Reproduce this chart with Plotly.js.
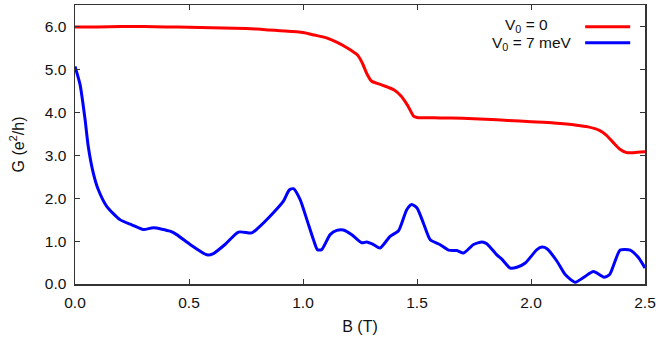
<!DOCTYPE html>
<html>
<head>
<meta charset="utf-8">
<script src="https://cdn.plot.ly/plotly-3.0.1.min.js"></script>
<style>html,body{margin:0;padding:0;background:#fff;}#plot{width:658px;height:342px;}</style>
</head>
<body>
<div id="plot"></div>
<script>
// V0 = 0 series
var redB = [0.0,0.1,0.2,0.3,0.4,0.5,0.6,0.7,0.8,0.85,0.9,1.0,1.05,1.1,1.15,1.2,1.24,1.26,1.28,1.30,1.35,1.40,1.43,1.46,1.485,1.5,1.6,1.7,1.8,1.9,2.0,2.1,2.2,2.25,2.3,2.33,2.36,2.39,2.42,2.45,2.5];
var redG = [5.99,5.99,6.0,6.0,5.99,5.98,5.97,5.96,5.94,5.92,5.90,5.86,5.80,5.74,5.63,5.48,5.33,5.15,4.90,4.73,4.63,4.52,4.38,4.15,3.91,3.88,3.87,3.86,3.84,3.81,3.78,3.75,3.70,3.66,3.58,3.47,3.30,3.14,3.06,3.06,3.08];
// V0 = 7 meV series
var blueB = [0.0,0.022,0.044,0.058,0.08,0.102,0.139,0.197,0.249,0.30,0.344,0.417,0.446,0.505,0.578,0.607,0.658,0.717,0.775,0.80,0.87,0.914,0.94,0.958,0.987,1.017,1.046,1.063,1.082,1.119,1.148,1.177,1.214,1.258,1.28,1.309,1.338,1.382,1.419,1.455,1.477,1.50,1.528,1.558,1.60,1.638,1.675,1.704,1.748,1.785,1.806,1.85,1.872,1.909,1.938,1.975,2.026,2.048,2.07,2.114,2.15,2.194,2.23,2.274,2.32,2.345,2.391,2.435,2.472,2.5];
var blueG = [5.07,4.65,3.84,3.21,2.59,2.20,1.81,1.50,1.38,1.27,1.31,1.23,1.15,0.92,0.68,0.71,0.92,1.21,1.19,1.29,1.66,1.93,2.19,2.22,1.97,1.50,1.03,0.80,0.80,1.15,1.25,1.26,1.15,0.96,0.98,0.92,0.84,1.11,1.24,1.73,1.85,1.77,1.42,1.03,0.92,0.79,0.78,0.72,0.92,0.98,0.94,0.68,0.58,0.37,0.39,0.49,0.80,0.86,0.82,0.53,0.22,0.04,0.15,0.29,0.16,0.22,0.79,0.79,0.61,0.37];
var seriesNames = ["V<sub>0</sub> = 0", "V<sub>0</sub> = 7 meV"];
var xTicks = [0, 0.5, 1.0, 1.5, 2.0, 2.5];
var yTicks = [0, 1, 2, 3, 4, 5, 6];

var fam = "Liberation Sans, Arial, sans-serif";
var tickFnt = {family: fam, size: 15.5, color: "#111"};
var titleFnt = {family: fam, size: 16, color: "#111"};
var legFnt = {family: fam, size: 15.5, color: "#111"};
var traces = [
  {x: redB, y: redG, mode: "lines", line: {color: "#ff0000", width: 3, shape: "spline", smoothing: 0.6}, name: seriesNames[0], showlegend: false},
  {x: blueB, y: blueG, mode: "lines", line: {color: "#0000ff", width: 3, shape: "spline", smoothing: 0.6}, name: seriesNames[1], showlegend: false}
];
var axisCommon = {
  showgrid: false, zeroline: false, showline: true, linecolor: "#333", linewidth: 1.5,
  mirror: "ticks", ticks: "inside", ticklen: 5, tickwidth: 1, tickcolor: "#333",
  tickfont: tickFnt, tickformat: ".1f", ticklabelstandoff: 4
};
var layout = {
  width: 658, height: 342,
  margin: {l: 75, r: 13, t: 5, b: 58},
  paper_bgcolor: "#fff", plot_bgcolor: "#fff",
  font: tickFnt,
  xaxis: Object.assign({}, axisCommon, {range: [0, 2.5], tickvals: xTicks, title: {text: "B (T)", font: titleFnt, standoff: 10}}),
  yaxis: Object.assign({}, axisCommon, {range: [0, 6.5], tickvals: yTicks, title: {text: "G (e<sup>2</sup>/h)", font: titleFnt, standoff: 16}}),
  annotations: [
    {xref: "paper", yref: "paper", x: 0.833, y: 0.928, xanchor: "right", yanchor: "middle", text: seriesNames[0], showarrow: false, font: legFnt},
    {xref: "paper", yref: "paper", x: 0.874, y: 0.862, xanchor: "right", yanchor: "middle", text: seriesNames[1], showarrow: false, font: legFnt}
  ],
  shapes: [
    {type: "line", xref: "paper", yref: "paper", x0: 0.895, x1: 0.974, y0: 0.922, y1: 0.922, line: {color: "#ff0000", width: 3}},
    {type: "line", xref: "paper", yref: "paper", x0: 0.895, x1: 0.974, y0: 0.865, y1: 0.865, line: {color: "#0000ff", width: 3}}
  ]
};
Plotly.newPlot("plot", traces, layout, {displayModeBar: false, staticPlot: true});
</script>
</body>
</html>
